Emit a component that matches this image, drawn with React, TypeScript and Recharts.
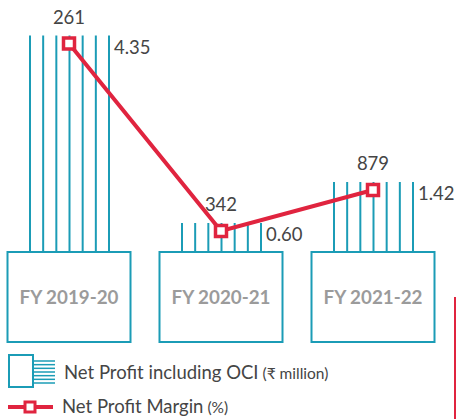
import React from 'react';
import { ComposedChart, Bar, Line, XAxis, YAxis, LabelList } from 'recharts';

// Data
const CATEGORIES = ['FY 2019-20', 'FY 2020-21', 'FY 2021-22'];
const NET_PROFIT = [261, 342, 879]; // ₹ million
const PROFIT_MARGIN = [4.35, 0.6, 1.42]; // %
const MARGIN_LABELS = ['4.35', '0.60', '1.42'];

const TEAL = '#1b9cb6';
const RED = '#e0243f';
const TEXT = '#454545';
const FONT = 'Lato, "Noto Sans", sans-serif';

const data = CATEGORIES.map((name, i) => ({
  name,
  profit: NET_PROFIT[i],
  margin: PROFIT_MARGIN[i],
  marginLabel: MARGIN_LABELS[i],
}));

// striped "bar": 7 thin vertical lines standing on the year box
function StripeBar(props: any) {
  const { x, y, width, height } = props;
  const bottom = y + height - 9;
  const lines = [];
  for (let i = 0; i < 7; i++) {
    const lx = x + (i * width) / 6;
    lines.push(
      <line key={i} x1={lx} x2={lx} y1={y - 8} y2={bottom} stroke={TEAL} strokeWidth={2} />
    );
  }
  return <g>{lines}</g>;
}

// year box drawn as the category tick
function BoxTick(props: any) {
  const { x, y, payload } = props;
  return (
    <g>
      <rect x={x - 61.5} y={y - 9} width={123} height={90} fill="none" stroke={TEAL} strokeWidth={2} />
      <text
        x={x}
        y={y + 43}
        textAnchor="middle"
        fill="#9b9b9b"
        fontSize={18.8}
        fontWeight={700}
        fontFamily={FONT}
      >
        {payload.value}
      </text>
    </g>
  );
}

function SquareDot(props: any) {
  const { cx, cy, index } = props;
  return (
    <rect
      key={`dot-${index}`}
      x={cx - 5.5}
      y={cy - 5.5}
      width={11}
      height={11}
      fill="#fff"
      stroke={RED}
      strokeWidth={3.5}
    />
  );
}

function ProfitLabel(props: any) {
  const { x, y, value } = props;
  return (
    <text x={x} y={y - 20} textAnchor="middle" fill={TEXT} fontSize={18.5} fontFamily={FONT}>
      {value}
    </text>
  );
}

function MarginLabel(props: any) {
  const { x, y, value } = props;
  return (
    <text x={x + 45} y={y + 10} textAnchor="start" fill={TEXT} fontSize={18.5} fontFamily={FONT}>
      {value}
    </text>
  );
}

function LegendOverlay() {
  const stripes = [];
  for (let i = 0; i < 7; i++) {
    const ly = 361 + (i * 22) / 6;
    stripes.push(<line key={i} x1={33} x2={55} y1={ly} y2={ly} stroke={TEAL} strokeWidth={1.5} />);
  }
  return (
    <svg
      width={457}
      height={419}
      style={{ position: 'absolute', left: 0, top: 0, pointerEvents: 'none' }}
    >
      {/* decorative red rule at the right edge */}
      <line x1={455} x2={455} y1={297} y2={419} stroke={RED} strokeWidth={2} />

      <rect x={9} y={355} width={24} height={32} fill="none" stroke={TEAL} strokeWidth={2} />
      {stripes}
      <text x={64} y={379} fill={TEXT} fontSize={18.5} fontFamily={FONT}>
        Net Profit including OCI
        <tspan fontSize={15.5}> (₹ million)</tspan>
      </text>

      <line x1={8} x2={53} y1={407} y2={407} stroke={RED} strokeWidth={4} />
      <rect x={25} y={402} width={10} height={10} fill="#fff" stroke={RED} strokeWidth={3} />
      <text x={62} y={413} fill={TEXT} fontSize={18.5} fontFamily={FONT}>
        Net Profit Margin
        <tspan fontSize={15.5}> (%)</tspan>
      </text>
    </svg>
  );
}

export default function App() {
  return (
    <div
      style={{
        position: 'absolute',
        left: 0,
        top: 0,
        width: 457,
        height: 419,
        overflow: 'hidden',
        background: '#fff',
        fontFamily: FONT,
      }}
    >
      <div style={{ position: 'absolute', left: -7, top: 0 }}>
        <ComposedChart
          width={464}
          height={419}
          data={data}
          margin={{ top: 11, right: 8, bottom: 128, left: 0 }}
        >
          <XAxis
            dataKey="name"
            height={30}
            axisLine={false}
            tickLine={false}
            tickSize={0}
            tickMargin={0}
            tick={<BoxTick />}
            interval={0}
          />
          <YAxis hide domain={[0, 5]} />
          <Bar dataKey="margin" barSize={79} shape={<StripeBar />} isAnimationActive={false} />
          <Line
            dataKey="margin"
            stroke={RED}
            strokeWidth={4}
            dot={<SquareDot />}
            activeDot={false}
            isAnimationActive={false}
          >
            <LabelList dataKey="profit" content={<ProfitLabel />} />
            <LabelList dataKey="marginLabel" content={<MarginLabel />} />
          </Line>
        </ComposedChart>
      </div>
      <LegendOverlay />
    </div>
  );
}
